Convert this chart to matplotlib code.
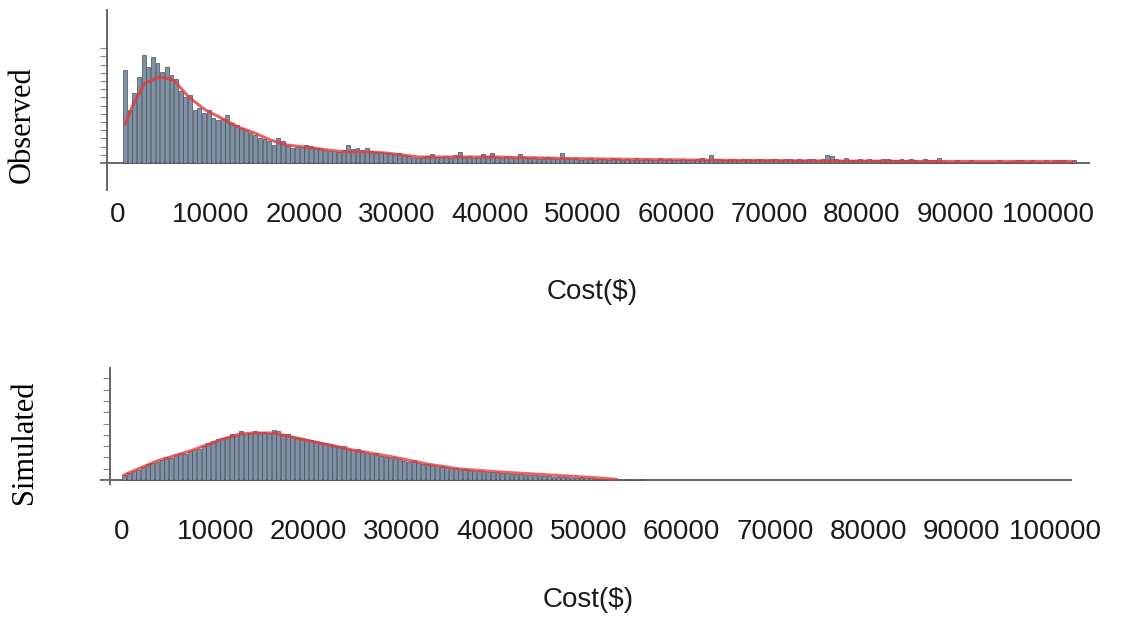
import matplotlib
matplotlib.use('Agg')
import matplotlib.pyplot as plt
import numpy as np

BIN_WIDTH = 500
TICK_VALUES = [0, 10000, 20000, 30000, 40000, 50000, 60000, 70000, 80000, 90000, 100000]

# observed cost histogram (bin starts at 500, width 500)
obs_start = 500
obs_counts = [
    93, 53, 70, 86, 108, 96, 106, 100, 91, 96, 88, 84,
    72, 66, 68, 53, 55, 50, 53, 45, 43, 44, 48, 40,
    38, 35, 33, 30, 28, 25, 24, 22, 18, 25, 22, 18,
    15, 16, 16, 18, 17, 15, 15, 13, 12, 12, 11, 13,
    18, 14, 15, 13, 15, 12, 11, 11, 10, 10, 9, 10,
    8, 7, 5, 5, 6, 7, 9, 6,
    6, 7, 5, 8, 11, 6, 7, 5, 6, 9, 7, 10,
    6, 5, 7, 6, 5, 9, 6, 5, 6, 4, 5, 6,
    5, 4, 10, 5, 4, 5, 3, 4, 5, 3, 4, 4,
    3, 5, 4, 3, 4, 3, 5, 3, 4, 3, 3, 5,
    3, 4, 3, 3, 4, 3, 3, 4, 5, 3, 8, 4,
    4, 3, 4, 4, 3, 4, 4, 3, 4, 4, 3, 4,
    4, 3, 4, 4, 3, 4, 3, 4, 4, 3, 4, 8,
    7, 4, 3, 5, 3, 3, 4, 3, 4, 3, 3, 4,
    4, 3, 3, 4, 3, 4, 3, 2, 4, 3, 3, 5,
    2, 1, 1, 3, 1, 1, 3, 1, 1, 1, 1, 1,
    3, 1, 1, 2, 3, 3, 1, 3, 1, 1, 3, 1, 3, 3, 3, 1, 3,
]
obs_fit_x = [750, 1600, 2900, 4500, 6000, 7600, 9400, 11100, 12900, 14700,
             16400, 18200, 20000, 21700, 23500, 25300, 27000, 28800, 30600,
             32300, 34100, 40500, 48400, 56400, 67000, 77500, 89200, 102800]
obs_fit_y = [38, 58, 80, 86, 83, 66, 53, 45, 36, 30,
             23, 18, 16, 14, 12, 11, 11, 10, 8,
             6, 6, 6, 4.5, 3.5, 2.5, 2, 1.5, 1.5]

# simulated cost histogram (bin starts at 0, width 500)
sim_start = 0
sim_counts = [
    5, 7, 9, 10, 13, 16, 17, 18, 20, 23, 22, 25,
    27, 26, 29, 30, 31, 34, 37, 39, 41, 42, 43, 46,
    45, 49, 46, 47, 49, 48, 48, 47, 50, 49, 46, 46,
    44, 43, 42, 41, 40, 39, 38, 37, 36, 35, 34, 34,
    31, 30, 31, 29, 27, 26, 27, 24, 23, 22, 23, 21,
    19, 18, 20, 17, 16, 16, 15, 14, 14, 13, 12, 12,
    11, 11, 10, 9, 9, 9, 8, 8, 8, 7, 7, 6,
    6, 6, 5, 5, 5, 4, 4, 4, 3, 3, 3, 3,
    2, 2, 3, 2, 2, 1, 1, 0, 0, 0, 0.8, 0,
    0.8, 0, 0, 0.8,
]
sim_fit_x = [214, 3750, 7300, 10500, 12650, 14050, 16200, 17700, 21200,
             24750, 26600, 29050, 32700, 36200, 40500, 45900, 51200, 53050]
sim_fit_y = [5, 19, 29, 40, 46, 47, 47, 44, 37,
             30, 27, 23, 16, 11, 8, 5, 2, 0.5]

NUM_FONT = ['Liberation Sans', 'DejaVu Sans']
SERIF_FONT = ['Liberation Serif', 'DejaVu Serif']
BAR_FACE = '#7f91a7'
BAR_EDGE = '#434d5b'
FIT_COLOR = '#e03c3c'
AXIS_COLOR = '#666666'


def draw_panel(ax, start, counts, fit_x, fit_y, xlim, ylim, yaxis_x, ytick_step, n_yticks):
    edges = start + BIN_WIDTH * np.arange(len(counts))
    ax.bar(edges + BIN_WIDTH * 0.08, counts, width=BIN_WIDTH * 0.84, align='edge',
           color=BAR_FACE, edgecolor=BAR_EDGE, linewidth=0.5)
    ax.plot(fit_x, fit_y, color=FIT_COLOR, lw=2.2, alpha=0.8,
            solid_joinstyle='round', solid_capstyle='round')
    ax.axhline(0, color=AXIS_COLOR, lw=1.4, zorder=0)
    ax.set_xlim(*xlim)
    ax.set_ylim(*ylim)
    for s in ['top', 'right', 'bottom']:
        ax.spines[s].set_visible(False)
    ax.spines['left'].set_position(('data', yaxis_x))
    ax.spines['left'].set_color(AXIS_COLOR)
    ax.spines['left'].set_linewidth(1.4)
    ax.set_yticks(np.arange(n_yticks + 1) * ytick_step)
    ax.set_yticklabels([])
    ax.tick_params(axis='y', length=5, width=0.8, color='#888888')
    ax.set_xticks(TICK_VALUES)
    ax.set_xticklabels([str(v) for v in TICK_VALUES], family=NUM_FONT, fontsize=20,
                       color='#1a1a1a')


fig = plt.figure(figsize=(11.32, 6.18), dpi=100)

ax1 = fig.add_axes([100 / 1132, 1 - 190 / 618, 990 / 1132, 180 / 618])
draw_panel(ax1, obs_start, obs_counts, obs_fit_x, obs_fit_y,
           (-1935, 104516), (-27, 153), -1183, 8.2, 14)
ax1.tick_params(axis='x', length=0, pad=9)

ax2 = fig.add_axes([100 / 1132, 1 - 484 / 618, 972 / 1132, 116 / 618])
draw_panel(ax2, sim_start, sim_counts, sim_fit_x, sim_fit_y,
           (-2358, 101822), (-4, 112), -1286, 11.3, 9)
ax2.tick_params(axis='x', length=0, pad=25)

fig.text(592 / 1132, 1 - 292 / 618, 'Cost($)', family=NUM_FONT, fontsize=20,
         ha='center', va='center', color='#1a1a1a')
fig.text(588 / 1132, 1 - 600 / 618, 'Cost($)', family=NUM_FONT, fontsize=20,
         ha='center', va='center', color='#1a1a1a')

fig.text(22 / 1132, 1 - 125 / 618, 'Observed', family=SERIF_FONT,
         fontsize=22, rotation=90, ha='center', va='center')
fig.text(24 / 1132, 1 - 442 / 618, 'Simulated', family=SERIF_FONT,
         fontsize=22, rotation=90, ha='center', va='center')

fig.savefig('out.png', dpi=100)
